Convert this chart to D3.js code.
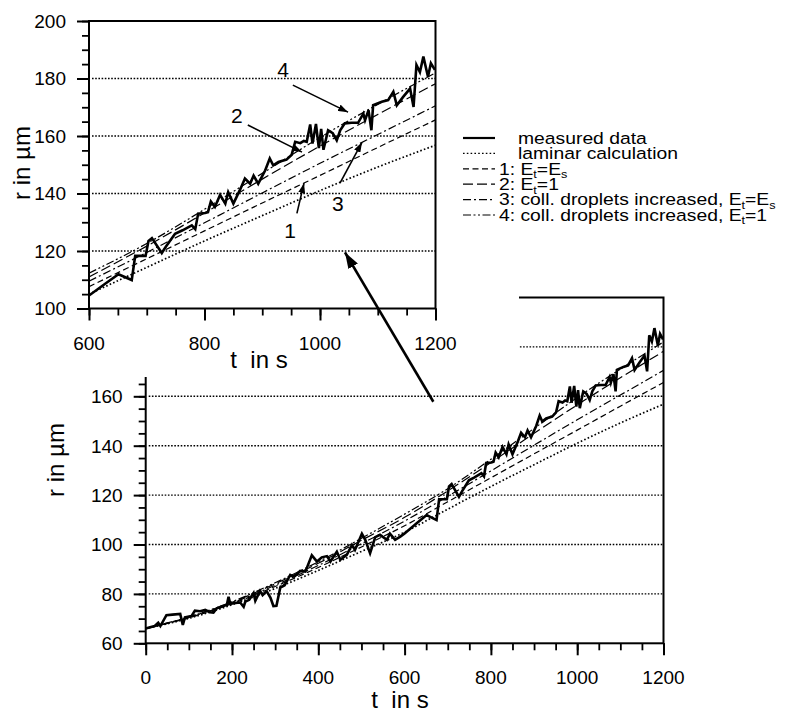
<!DOCTYPE html>
<html><head><meta charset="utf-8">
<script src="https://cdn.jsdelivr.net/npm/d3@7"></script>
<style>
body{margin:0;background:#fff}
svg text{font-family:"Liberation Sans",Arial,Helvetica,sans-serif;fill:#000}
</style>
</head><body>
<svg id="c" width="805" height="715"></svg>
<script>
// ---------------- data ----------------
const measT = [0,10,21,29,34,48,62,80,86,91,106,114,126,138,149,157,165,177,188,192,196,208,219,227,231,240,250,254,265,271,277,281,289,296,303,312,322,335,344,358,370,385,397,408,420,428,443,451,466,478,485,501,509,520,532,543,559,566,578,590,600,628,651,674,680,690,698,703,709,726,733,749,762,778,784,789,801,806,811,818,827,836,841,850,862,870,879,885,893,905,913,919,928,942,951,957,966,972,977,983,987,993,998,1002,1006,1014,1022,1029,1035,1043,1055,1066,1075,1078,1084,1089,1092,1107,1118,1127,1133,1144,1156,1162,1167,1173,1179,1187,1192,1199];
const measR = [66.0,66.5,67.0,68.3,67.0,71.4,71.6,71.9,67.4,70.5,71.0,73.2,73.0,73.5,72.6,72.4,74.2,75.0,75.5,78.8,76.0,76.3,76.5,74.8,76.9,77.6,80.3,77.2,81.2,79.5,80.5,80.9,78.5,75.1,75.2,82.6,83.5,87.7,87.0,89.3,89.0,95.6,93.1,94.8,95.3,93.1,97.1,93.8,95.8,99.8,97.8,104.4,101.8,96.5,103.0,103.9,101.9,104.4,101.9,103.2,104.5,108.6,111.9,109.9,118.3,118.3,118.3,123.5,124.5,119.3,121.5,126.0,127.2,128.9,127.6,133.0,133.2,133.5,137.2,135.3,139.5,136.5,140.5,136.5,141.5,145.2,143.4,146.2,143.4,148.0,152.2,149.8,151.0,151.8,153.5,158.0,157.5,158.3,158.0,164.0,157.4,164.2,155.8,162.5,155.2,162.0,161.0,158.5,162.0,164.4,164.6,164.6,167.8,165.5,169.0,162.0,170.7,171.9,172.5,175.4,170.7,173.6,176.5,170.1,184.7,182.2,187.6,180.6,185.3,183.0];

const modelT  = [0,100,200,300,400,500,600,700,800,900,1000,1100,1200];
const laminar = [66,70.1,75.6,82.2,89.5,97.2,105.0,114.3,123.5,132.3,141.0,149.2,156.8];
const case1   = [66,70.3,76.0,83.0,90.7,99.0,107.6,117.3,127.0,136.7,146.3,156.0,165.6];
const case2   = [66,70.6,76.6,84.1,92.4,101.7,111.0,121.7,133.2,145.0,156.5,167.5,178.2];
const case3   = [66,70.4,76.3,83.5,91.5,100.3,109.5,119.5,129.8,140.2,150.5,160.5,170.5];
const case4   = [66,70.7,76.8,84.5,93.0,102.5,112.3,122.6,134.5,147.0,159.5,171.0,182.0];

const mainXTicks = [0,200,400,600,800,1000,1200];
const mainYTicks = [60,80,100,120,140,160];
const insetXTicks = [600,800,1000,1200];
const insetYTicks = [100,120,140,160,180,200];

const legendLabels = [
  [["measured data",0]],
  [["laminar calculation",0]],
  [["1: E",0],["t",1],["=E",0],["s",1]],
  [["2: E",0],["t",1],["=1",0]],
  [["3: coll. droplets increased, E",0],["t",1],["=E",0],["s",1]],
  [["4: coll. droplets increased, E",0],["t",1],["=1",0]]
];
// annotation labels in inset data coordinates: [label, t, r] and arrows [t0,r0,t1,r1]
const annoLabels = [["4",936,183],["2",856,167],["1",948,127.2],["3",1031,136.6]];
const annoArrows = [[953,177.7,1048.5,168.3],[875,163.8,968.8,154.4],[960,133.1,972.3,143.6],[1034.6,143.6,1072.7,157.8]];

// ---------------- styles ----------------
const seriesDefs = [
  {t:modelT, r:laminar, dash:"1.6,2.2", w:1.7, curve:d3.curveMonotoneX},
  {t:modelT, r:case1, dash:"6,3.5", w:1.2, curve:d3.curveMonotoneX},
  {t:modelT, r:case2, dash:"10,4", w:1.2, curve:d3.curveMonotoneX},
  {t:modelT, r:case3, dash:"8,3,2,3", w:1.2, curve:d3.curveMonotoneX},
  {t:modelT, r:case4, dash:"8,2.5,2,2.5,2,2.5", w:1.2, curve:d3.curveMonotoneX},
  {t:measT, r:measR, dash:null, w:2.6, curve:d3.curveLinear}
];
const legendOrder = [5,0,1,2,3,4];

const svg = d3.select("#c");
const defs = svg.append("defs");
function marker(id,w,h){
  defs.append("marker").attr("id",id).attr("viewBox",`0 0 ${w} ${h}`)
    .attr("refX",w).attr("refY",h/2).attr("markerWidth",w).attr("markerHeight",h)
    .attr("markerUnits","userSpaceOnUse").attr("orient","auto")
    .append("path").attr("d",`M0,0L${w},${h/2}L0,${h}Z`).attr("fill","#000");
}
marker("headS",10,7);
marker("headB",16,11);

const xMain = d3.scaleLinear().domain([0,1200]).range([145.7,663.5]);
const yMain = d3.scaleLinear().domain([60,200]).range([643.3,297.5]);
const xIn = d3.scaleLinear().domain([600,1200]).range([89,435.5]);
const yIn = d3.scaleLinear().domain([100,200]).range([308.5,21]);

function range(a,b,s){const o=[];for(let v=a;v<=b+1e-9;v+=s)o.push(v);return o;}

function drawPanel(g,x,y,o){
  const [x0,x1]=x.range(), [yb,yt]=y.range();
  g.append("clipPath").attr("id",o.id).append("rect")
    .attr("x",x0).attr("y",yt).attr("width",x1-x0).attr("height",yb-yt);
  g.selectAll("line.grid").data(o.grid).join("line").attr("class","grid")
    .attr("x1",x0+3).attr("x2",x1).attr("y1",d=>y(d)).attr("y2",d=>y(d))
    .attr("stroke","#000").attr("stroke-width",1.4).attr("stroke-dasharray","1.6,1.6");
  const lg=g.append("g").attr("clip-path",`url(#${o.id})`);
  seriesDefs.forEach(s=>{
    const pts=s.t.map((t,i)=>[t,s.r[i]]).filter(p=>p[0]>=o.tMin);
    lg.append("path").datum(pts)
      .attr("d",d3.line().x(p=>x(p[0])).y(p=>y(p[1])).curve(s.curve))
      .attr("fill","none").attr("stroke","#000").attr("stroke-width",s.w)
      .attr("stroke-linejoin","miter").attr("stroke-dasharray",s.dash);
  });
  g.append("rect").attr("x",x0).attr("y",yt).attr("width",x1-x0).attr("height",yb-yt)
    .attr("fill","none").attr("stroke","#000").attr("stroke-width",2);
  const style=(sel,w)=>{sel.select(".domain").remove();sel.selectAll("line").attr("stroke","#000").attr("stroke-width",w);};
  g.append("g").attr("transform",`translate(${x0},0)`)
    .call(d3.axisLeft(y).tickValues(o.yMinor).tickSize(7).tickFormat("")).call(s=>style(s,1.8));
  g.append("g").attr("transform",`translate(${x0},0)`)
    .call(d3.axisLeft(y).tickValues(o.yTicks).tickSize(12).tickFormat("")).call(s=>style(s,2));
  g.append("g").attr("transform",`translate(0,${yb})`)
    .call(d3.axisBottom(x).tickValues(o.xMinor).tickSize(7).tickFormat("")).call(s=>style(s,1.8));
  g.append("g").attr("transform",`translate(0,${yb})`)
    .call(d3.axisBottom(x).tickValues(o.xTicks).tickSize(12).tickFormat("")).call(s=>style(s,2));
  g.selectAll("text.yl").data(o.yTicks).join("text").attr("class","yl")
    .attr("x",x0-23).attr("y",d=>y(d)).attr("dy","0.36em").attr("text-anchor","end")
    .style("font-size","19px").text(d=>d);
  g.selectAll("text.xl").data(o.xTicks).join("text").attr("class","xl")
    .attr("x",d=>x(d)).attr("y",yb+41).attr("text-anchor","middle")
    .style("font-size","19px").text(d=>d);
  g.append("text").attr("x",o.xtX).attr("y",o.xtY).attr("text-anchor","middle")
    .style("font-size","24px").style("white-space","pre").text("t  in s");
  g.append("text").attr("transform",`translate(${o.ytX},${o.ytY}) rotate(-90)`)
    .attr("text-anchor","middle").style("font-size","24px").text("r in \u00b5m");
}

// main plot
const gMain = svg.append("g");
drawPanel(gMain,xMain,yMain,{id:"clipMain",tMin:0,grid:[80,100,120,140,160,180],
  yTicks:mainYTicks,yMinor:range(60,165,5),xTicks:mainXTicks,xMinor:range(0,1200,50),
  xtX:400,xtY:708,ytX:64,ytY:460});

// white backing for inset
svg.append("rect").attr("x",0).attr("y",0).attr("width",519).attr("height",377).attr("fill","#fff");

// inset
const gIn = svg.append("g");
drawPanel(gIn,xIn,yIn,{id:"clipIn",tMin:600,grid:[120,140,160,180],
  yTicks:insetYTicks,yMinor:range(100,200,5),xTicks:insetXTicks,xMinor:range(600,1200,50),
  xtX:259,xtY:368,ytX:30,ytY:163});

gIn.selectAll("text.an").data(annoLabels).join("text").attr("class","an")
  .attr("x",d=>xIn(d[1])).attr("y",d=>yIn(d[2])).attr("dy","0.36em").attr("text-anchor","middle")
  .style("font-size","21px").text(d=>d[0]);
gIn.selectAll("line.ar").data(annoArrows).join("line").attr("class","ar")
  .attr("x1",d=>xIn(d[0])).attr("y1",d=>yIn(d[1])).attr("x2",d=>xIn(d[2])).attr("y2",d=>yIn(d[3]))
  .attr("stroke","#000").attr("stroke-width",1.6).attr("marker-end","url(#headS)");

// legend
const lgd = svg.append("g");
legendOrder.forEach((si,i)=>{
  const s=seriesDefs[si], yc=138+i*15.4;
  lgd.append("line").attr("x1",463).attr("x2",495).attr("y1",yc).attr("y2",yc)
    .attr("stroke","#000").attr("stroke-width",si===5?2.2:Math.min(s.w,1.4)).attr("stroke-dasharray",s.dash);
  const t=lgd.append("text").attr("transform",`translate(${i<2?518:499},${yc+5.8}) scale(1.15,1)`)
    .style("font-size","16.8px");
  let shifted=false;
  legendLabels[i].forEach(([txt,sub])=>{
    const sp=t.append("tspan").text(txt);
    if(sub){sp.style("font-size","11px").attr("dy",shifted?0:3.5);shifted=true;}
    else{if(shifted){sp.attr("dy",-3.5);shifted=false;}}
  });
});

// big arrow from main to inset
svg.append("line").attr("x1",xMain(666.6)).attr("y1",yMain(157.8))
  .attr("x2",xIn(1043.3)).attr("y2",yIn(119.5))
  .attr("stroke","#000").attr("stroke-width",2.6).attr("marker-end","url(#headB)");
</script>
</body></html>
